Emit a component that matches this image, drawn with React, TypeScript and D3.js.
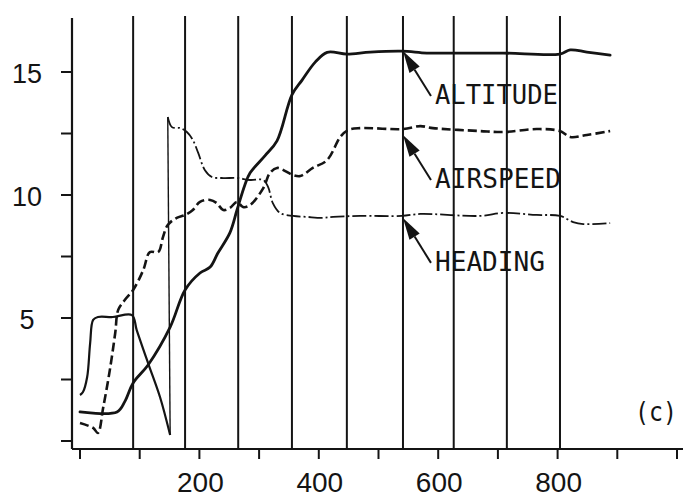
import React from "react";
import * as d3 from "d3";

type P = [number, number];

const altitude: P[] = [
  [0, 1.18], [62, 1.18], [75, 1.6], [89, 2.36], [114, 3.09], [151, 4.63], [176, 6.14],
  [201, 6.83], [218, 7.07], [231, 7.64], [251, 8.46], [263, 9.39], [276, 10.4],
  [285, 10.9], [310, 11.6], [330, 12.2], [355, 14.07], [372, 14.67], [394, 15.4],
  [414, 15.8], [447, 15.73], [486, 15.81], [539, 15.85], [581, 15.77], [631, 15.77],
  [709, 15.77], [804, 15.73], [821, 15.9], [849, 15.81], [888, 15.69],
];

const airspeed: P[] = [
  [0, 0.73], [22, 0.53], [30, 0.33], [39, 1.38], [50, 2.89], [59, 4.39], [64, 5.33],
  [75, 5.73], [89, 6.14], [106, 6.95], [117, 7.68], [131, 7.68], [139, 8.29],
  [147, 8.78], [162, 9.07], [176, 9.19], [189, 9.39], [201, 9.72], [218, 9.8],
  [229, 9.67], [240, 9.39], [251, 9.47], [263, 9.72], [273, 9.51], [285, 9.59],
  [307, 10.28], [318, 10.89], [330, 11.1], [357, 10.81], [369, 10.77], [390, 11.1],
  [414, 11.42], [436, 12.36], [449, 12.64], [469, 12.72], [541, 12.68], [570, 12.8],
  [591, 12.72], [670, 12.6], [709, 12.56], [765, 12.68], [804, 12.6], [821, 12.36],
  [849, 12.44], [888, 12.6],
];

// heading before the 360-degree wrap
const headingA: P[] = [
  [0, 1.87], [5, 1.99], [12, 2.6], [17, 3.98], [22, 4.92], [30, 5.04], [55, 5.04],
  [87, 5.12], [95, 4.51], [114, 3.17], [134, 1.79], [151, 0.24],
];
// heading after the wrap
const headingB: P[] = [
  [147, 13.17], [154, 12.76], [168, 12.72], [179, 12.56], [189, 12.24], [198, 11.71],
  [209, 11.02], [221, 10.73], [240, 10.69], [263, 10.69], [285, 10.61], [307, 10.61],
  [315, 10.33], [323, 9.67], [335, 9.27], [357, 9.15], [380, 9.11], [405, 9.07],
  [424, 9.11], [469, 9.15], [539, 9.15], [570, 9.23], [670, 9.15], [709, 9.27],
  [765, 9.19], [804, 9.15], [826, 8.9], [843, 8.82], [888, 8.86],
];

const timeMarks = [89, 176, 265, 355, 447, 541, 626, 715, 804];
const xTicks = [0, 100, 200, 300, 400, 500, 600, 700, 800, 900, 1000];
const xTickLabels = [200, 400, 600, 800];
const yTicks = [0, 2.5, 5, 7.5, 10, 12.5, 15];
const yTickLabels = [5, 10, 15];

const seriesLabels = ["ALTITUDE", "AIRSPEED", "HEADING"];
const labelTips: P[] = [
  [541, 15.85],
  [541, 12.44],
  [541, 9.07],
];
const panelTag = "(c)";

export default function App() {
  const W = 683;
  const H = 497;
  const x = d3.scaleLinear().domain([0, 1000]).range([80, 677]);
  const y = d3.scaleLinear().domain([0, 15]).range([441, 72]);
  const axisX = 72;
  const axisY = 449;
  const top = 16;
  const ink = "#141414";

  const line = d3
    .line<P>()
    .x((d) => x(d[0]))
    .y((d) => y(d[1]))
    .curve(d3.curveCatmullRom.alpha(0.5));
  const straight = d3
    .line<P>()
    .x((d) => x(d[0]))
    .y((d) => y(d[1]));

  const jump: P[] = [headingA[headingA.length - 1], headingB[0]];

  const mono = "'DejaVu Sans Mono', monospace";
  const sans = "'Liberation Sans', Arial, sans-serif";

  return (
    <svg
      width={W}
      height={H}
      viewBox={`0 0 ${W} ${H}`}
      style={{ position: "fixed", left: 0, top: 0, background: "#fff" }}
    >
      <rect x={0} y={0} width={W} height={H} fill="#fff" />
      {timeMarks.map((t, i) => (
        <line
          key={"g" + i}
          x1={x(t)}
          x2={x(t)}
          y1={top}
          y2={axisY}
          stroke={ink}
          strokeWidth={2}
        />
      ))}
      <line x1={axisX} x2={axisX} y1={top + 2} y2={axisY} stroke={ink} strokeWidth={2.2} />
      <line x1={axisX} x2={W} y1={axisY} y2={axisY} stroke={ink} strokeWidth={2.2} />
      {yTicks.map((t, i) => (
        <line
          key={"yt" + i}
          x1={axisX - 11}
          x2={axisX}
          y1={y(t)}
          y2={y(t)}
          stroke={ink}
          strokeWidth={2}
        />
      ))}
      {yTickLabels.map((t, i) => (
        <text
          key={"yl" + i}
          x={27}
          y={y(t) + 11}
          textAnchor="middle"
          fontFamily={sans}
          fontSize={27}
          fill={ink}
        >
          {t}
        </text>
      ))}
      {xTicks.map((t, i) => (
        <line
          key={"xt" + i}
          x1={x(t)}
          x2={x(t)}
          y1={axisY}
          y2={axisY + 10}
          stroke={ink}
          strokeWidth={2}
        />
      ))}
      {xTickLabels.map((t, i) => (
        <text
          key={"xl" + i}
          x={x(t) + 1}
          y={492}
          textAnchor="middle"
          fontFamily={sans}
          fontSize={28}
          fill={ink}
        >
          {t}
        </text>
      ))}
      <path d={line(headingA) || ""} fill="none" stroke={ink} strokeWidth={2.2} strokeLinejoin="round" />
      <path d={straight(jump) || ""} fill="none" stroke={ink} strokeWidth={1.4} />
      <path d={line(headingB) || ""} fill="none" stroke={ink} strokeWidth={1.8} strokeDasharray="14 3 2 3" strokeLinejoin="round" />
      <path d={line(airspeed) || ""} fill="none" stroke={ink} strokeWidth={2.6} strokeDasharray="9 4" strokeLinejoin="round" />
      <path d={line(altitude) || ""} fill="none" stroke={ink} strokeWidth={2.8} strokeLinejoin="round" strokeLinecap="round" />
      {seriesLabels.map((lab, i) => {
        const tx = x(labelTips[i][0]);
        const ty = y(labelTips[i][1]);
        const dx = 28;
        const dy = 45;
        const len = Math.hypot(dx, dy);
        const ux = dx / len;
        const uy = dy / len;
        const hl = 22;
        const hw = 6;
        const bx = tx + ux * hl;
        const by = ty + uy * hl;
        const pts = [
          [tx, ty],
          [bx - uy * hw, by + ux * hw],
          [bx + uy * hw, by - ux * hw],
        ]
          .map((p) => p.join(","))
          .join(" ");
        const widths = [123, 126, 110];
        return (
          <g key={"a" + i}>
            <line x1={bx} y1={by} x2={tx + dx} y2={ty + dy} stroke={ink} strokeWidth={2} />
            <polygon points={pts} fill={ink} />
            <text
              x={tx + 32}
              y={ty + 53}
              fontFamily={mono}
              fontSize={27}
              textLength={widths[i]}
              lengthAdjust="spacingAndGlyphs"
              fill={ink}
            >
              {lab}
            </text>
          </g>
        );
      })}
      <text
        x={635}
        y={421}
        fontFamily={mono}
        fontSize={27}
        textLength={42}
        lengthAdjust="spacingAndGlyphs"
        fill={ink}
      >
        {panelTag}
      </text>
    </svg>
  );
}
